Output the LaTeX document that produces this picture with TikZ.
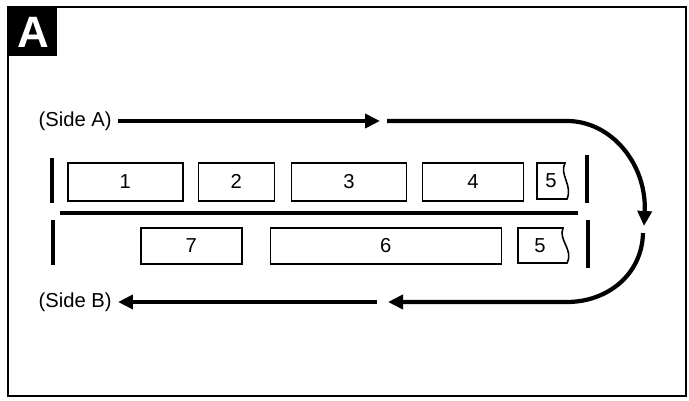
\documentclass[tikz,border=0pt]{standalone}
\usepackage{fontspec}
\setmainfont{Liberation Sans}
\usepackage{tikz}
\usetikzlibrary{arrows.meta,positioning,calc}

\begin{document}
\begin{tikzpicture}[
  x=0.02cm, y=-0.02cm,
  slot/.style={draw, line width=0.9pt, minimum height=0.76cm, inner sep=0pt,
               font=\fontsize{11.5}{13}\selectfont},
  low/.style={slot, minimum height=0.72cm},
  tail/.style={draw, line width=0.9pt},
  side/.style={font=\fontsize{11.5}{13}\selectfont, inner sep=0pt},
  tag/.style={fill=black, text=white, inner sep=0pt, minimum size=0.96cm,
              font=\bfseries\fontsize{25}{25}\selectfont},
  arr/.style={-{Triangle[length=0.3cm, width=0.28cm]}, line width=2.4pt},
  bar/.style={line width=2.4pt},
  rail/.style={line width=2.2pt},
  frame/.style={line width=1.4pt}
]
\useasboundingbox (0,0) rectangle (689,401);
% ── Frame and tag ────────────────────────────────────────────────────────────
\draw[frame] (8,7) rectangle (686,396);
\node[tag, anchor=north west] (tag) at (9,8) {A};

% ── Upper row ────────────────────────────────────────────────────────────────
\node[slot, minimum width=2.30cm, anchor=north west] (b1) at (67,162) {1};
\node[slot, minimum width=1.52cm, right=0.28cm of b1] (b2) {2};
\node[slot, minimum width=2.30cm, right=0.31cm of b2] (b3) {3};
\node[slot, minimum width=2.02cm, right=0.29cm of b3] (b4) {4};
\draw[tail] (537,163) -- (565,163) .. controls (559,175) and (573,185) .. (567,199)
  -- (537,199) -- cycle;
\node[side] (b5a) at (551,181) {5};

% ── Lower row ────────────────────────────────────────────────────────────────
\node[low, minimum width=2.02cm, anchor=north west] (b7) at (140,227) {7};
\node[low, minimum width=4.62cm, right=0.54cm of b7] (b6) {6};
\draw[tail] (518,228) -- (563,228) .. controls (558,240) and (574,250) .. (567,263)
  -- (518,263) -- cycle;
\node[side] (b5b) at (540,246) {5};

% ── Rail and end bars ────────────────────────────────────────────────────────
\draw[rail] (60,213) -- (578,213);
\draw[bar] (52,158) -- (52,203);
\draw[bar] (53,220) -- (53,265);
\draw[bar] (587,155) -- (587,203);
\draw[bar] (588,220) -- (588,268);

% ── Side labels and turn points ──────────────────────────────────────────────
\node[side, anchor=east] (sideA) at (112,121) {(Side A)};
\node[side, anchor=east] (sideB) at (112,302) {(Side B)};
\coordinate (a1) at (380,121);
\coordinate (a2) at (387,121);
\coordinate (topturn) at (567,121);
\coordinate (mid1) at (644,226);
\coordinate (mid2) at (643,233);
\coordinate (botturn) at (567,302);
\coordinate (c1) at (388,302);
\coordinate (c2) at (377,302);

% ── Arrows ───────────────────────────────────────────────────────────────────
\draw[arr] ([xshift=0.12cm]sideA.east) -- (a1);
\draw[arr] (a2) -- (topturn) .. controls (612,121) and (647,165) .. (mid1);
\draw[arr] (mid2) .. controls (642,275) and (607,302) .. (botturn) -- (c1);
\draw[arr] (c2) -- ([xshift=0.12cm]sideB.east);
\end{tikzpicture}
\end{document}
